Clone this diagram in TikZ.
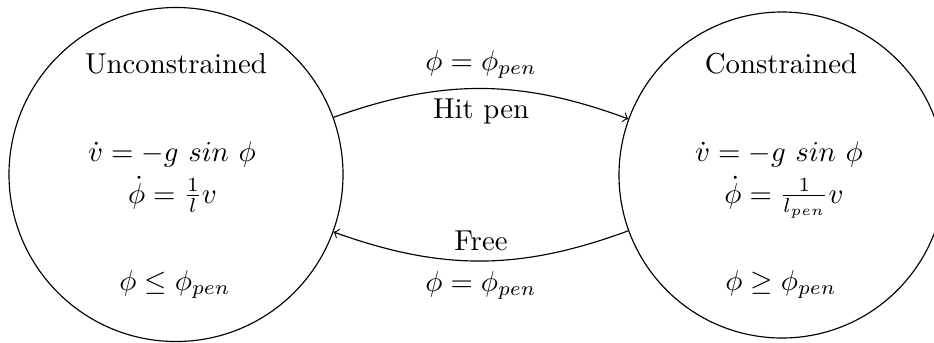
\documentclass[tikz,border=0pt]{standalone}
\begin{document}
\begin{tikzpicture}[x=0.3472pt,y=-0.3472pt,
  statebox/.style={draw,circle,inner sep=0pt,thin},
  txt/.style={anchor=base,inner sep=0pt},
  trans/.style={->,thin}]
\useasboundingbox (0,0) rectangle (934,342);
\node[statebox,minimum size=115.97pt] (L) at (176,174.5) {};
\node[statebox,minimum size=113.19pt] (R) at (782,175) {};
% left contents
\node[txt] (lt) at (176,73) {Unconstrained};
\node[txt] (l1) at (172,161) {$\dot{v} = -g\ sin\ \phi$};
\node[txt] (l2) at (172.5,203) {$\dot{\phi} = \frac{1}{l} v$};
\node[txt] (l3) at (175,290) {$\phi \leq \phi_{pen}$};
% right contents
\node[txt] (rt) at (781,73) {Constrained};
\node[txt] (r1) at (779,161) {$\dot{v} = -g\ sin\ \phi$};
\node[txt] (r2) at (784,203) {$\dot{\phi} = \frac{1}{l_{pen}} v$};
\node[txt] (r3) at (781,290) {$\phi \geq \phi_{pen}$};
% transitions
\draw[trans] (L) to[bend left=20] node[above] (a1) {$\phi = \phi_{pen}$} node[below] (a2) {Hit pen} (R);
\draw[trans] (R) to[bend left=20] node[above] (b1) {Free} node[below] (b2) {$\phi = \phi_{pen}$} (L);
\end{tikzpicture}
\end{document}
